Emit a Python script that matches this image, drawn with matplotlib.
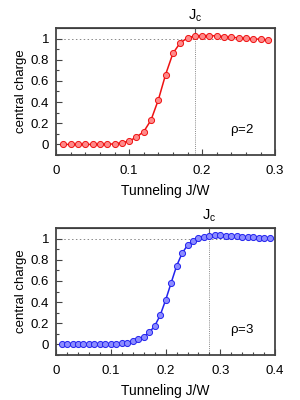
import matplotlib
matplotlib.use('Agg')
import matplotlib.pyplot as plt
from matplotlib.ticker import MultipleLocator

plt.rcParams['font.family'] = ['Liberation Sans', 'DejaVu Sans']
plt.rcParams['mathtext.fontset'] = 'custom'
plt.rcParams['mathtext.rm'] = 'Liberation Sans'
plt.rcParams['mathtext.it'] = 'Liberation Sans'

# rho = 2
j_rho2 = [0.01, 0.02, 0.03, 0.04, 0.05, 0.06, 0.07, 0.08, 0.09, 0.10,
          0.11, 0.12, 0.13, 0.14, 0.15, 0.16, 0.17, 0.18, 0.19, 0.20,
          0.21, 0.22, 0.23, 0.24, 0.25, 0.26, 0.27, 0.28, 0.29]
c_rho2 = [0.0, 0.0, 0.0, 0.0, 0.0, 0.0, 0.002, 0.005, 0.016, 0.031,
          0.069, 0.12, 0.23, 0.42, 0.66, 0.86, 0.96, 1.006, 1.025, 1.028,
          1.028, 1.025, 1.019, 1.013, 1.006, 1.003, 0.997, 0.994, 0.987]
jc_rho2 = 0.19

# rho = 3
j_rho3 = [0.01, 0.02, 0.03, 0.04, 0.05, 0.06, 0.07, 0.08, 0.09, 0.10,
          0.11, 0.12, 0.13, 0.14, 0.15, 0.16, 0.17, 0.18, 0.19, 0.20,
          0.21, 0.22, 0.23, 0.24, 0.25, 0.26, 0.27, 0.28, 0.29, 0.30,
          0.31, 0.32, 0.33, 0.34, 0.35, 0.36, 0.37, 0.38, 0.39]
c_rho3 = [0.0, 0.0, 0.0, 0.0, 0.0, 0.0, 0.0, 0.0, 0.003, 0.003,
          0.006, 0.01, 0.016, 0.028, 0.047, 0.072, 0.113, 0.173, 0.274, 0.418,
          0.58, 0.74, 0.86, 0.937, 0.98, 1.006, 1.019, 1.028, 1.03, 1.03,
          1.028, 1.025, 1.022, 1.019, 1.016, 1.013, 1.009, 1.006, 1.003]
jc_rho3 = 0.28

panels = [
    (j_rho2, c_rho2, jc_rho2, 0.3, r'$\rho$=2', '#ee1111', '#ff8a8a', 0.6125),
    (j_rho3, c_rho3, jc_rho3, 0.4, r'$\rho$=3', '#2222ee', '#8c8cff', 0.1125),
]

fig = plt.figure(figsize=(3, 4), dpi=100)
spine_col = '#444444'

for j, c, jc, xmax, lab, lc, fc, bot in panels:
    ax = fig.add_axes([0.187, bot, 0.73, 0.3175])
    ax.axhline(1.0, color='#888888', lw=0.7, ls=(0, (1.5, 2.5)), zorder=1)
    ax.axvline(jc, color='#888888', lw=0.7, ls=(0, (1, 1.2)), zorder=1)
    ax.plot(j, c, '-o', color=lc, lw=1.1, ms=4.4, mfc=fc, mec=lc, mew=0.7, zorder=3)
    ax.set_xlim(0, xmax)
    ax.set_ylim(-0.1, 1.1)
    ax.xaxis.set_major_locator(MultipleLocator(0.1))
    ax.xaxis.set_minor_locator(MultipleLocator(0.02))
    ax.yaxis.set_major_locator(MultipleLocator(0.2))
    ax.yaxis.set_minor_locator(MultipleLocator(0.1))
    ax.set_xticklabels([f'{v:g}' for v in ax.get_xticks()])
    ax.set_yticklabels([f'{v:g}' for v in ax.get_yticks()])
    ax.tick_params(which='both', direction='in', top=False, right=False,
                   labelsize=9.5, color=spine_col, width=0.8)
    ax.tick_params(which='major', length=4)
    ax.tick_params(axis='x', which='major', pad=7.5)
    ax.tick_params(axis='y', which='major', pad=5)
    ax.tick_params(which='minor', length=2.5)
    for s in ax.spines.values():
        s.set_color(spine_col)
        s.set_linewidth(1.3)
    ax.set_xlabel('Tunneling J/W', fontsize=10, labelpad=5)
    ax.set_ylabel('central charge', fontsize=9.5, labelpad=3)
    ax.text(0.85, 0.2, lab, transform=ax.transAxes, ha='center', va='center', fontsize=9.5)

    top = ax.secondary_xaxis('top')
    top.set_xticks([jc])
    top.set_xticklabels([r'J$_\mathrm{c}$'])
    top.tick_params(direction='in', length=4, labelsize=10.5, color=spine_col, width=0.8, pad=3)

fig.savefig('out.png', dpi=100)
